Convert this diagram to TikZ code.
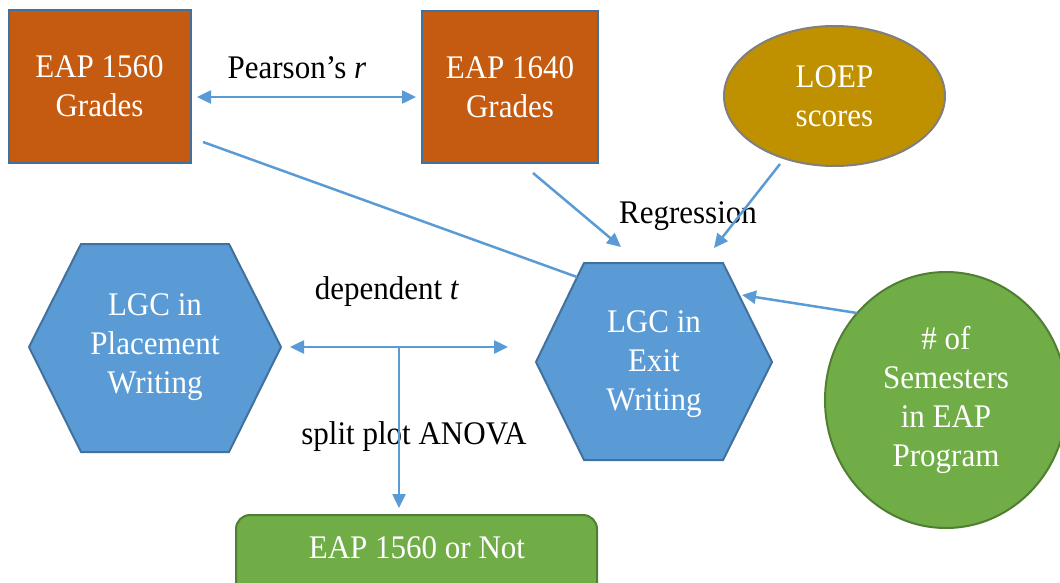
\documentclass[tikz,border=0pt]{standalone}
\usepackage{fontspec}
\setmainfont{Liberation Serif}[FakeStretch=0.94]
\usetikzlibrary{shapes.geometric,arrows.meta}
\definecolor{orangefill}{HTML}{C55A11}
\definecolor{blueline}{HTML}{41719C}
\definecolor{bluefill}{HTML}{5B9BD5}
\definecolor{greenfill}{HTML}{70AD47}
\definecolor{greenline}{HTML}{507E32}
\definecolor{goldfill}{HTML}{BF9000}
\definecolor{grayline}{HTML}{7F7F7F}
\tikzset{
  txt/.style={font=\fontsize{33}{39}\selectfont, align=center, inner sep=0pt},
  wtxt/.style={txt, text=white},
  gradebox/.style={wtxt, draw=blueline, line width=2pt, fill=orangefill, minimum width=#1},
  hexshape/.style={draw=blueline, line width=2pt, fill=bluefill},
  link/.style={draw=bluefill, line width=2.5pt},
  tip/.style={-{Triangle[length=14pt,width=13pt]}},
  dtip/.style={{Triangle[length=14pt,width=13pt]}-{Triangle[length=14pt,width=13pt]}},
}
\begin{document}
\begin{tikzpicture}[x=1pt,y=-1pt]
\useasboundingbox (0,0) rectangle (1060,583);
\clip (0,0) rectangle (1060,583);
% grade boxes
\node[gradebox=182pt, minimum height=152pt] (g1560) at (99.5,86.5) {EAP 1560\\Grades};
\node[gradebox=176pt, minimum height=151pt] (g1640) at (510,87) {EAP 1640\\Grades};
% LOEP ellipse
\node[wtxt, ellipse, draw=grayline, line width=2pt, fill=goldfill, minimum width=221pt, minimum height=140pt] (loep) at (834.5,96) {LOEP\\scores};
% semesters circle
\node[wtxt, ellipse, draw=greenline, line width=2pt, fill=greenfill, minimum width=242pt, minimum height=256pt] (sem) at (946,400) {\# of\\Semesters\\in EAP\\Program};
% hexagons
\draw[hexshape] (81,244) -- (229,244) -- (281,347) -- (229,452) -- (81,452) -- (29,347) -- cycle;
\node[wtxt] (place) at (155,347) {LGC in\\Placement\\Writing};
\draw[hexshape] (584,263) -- (723,263) -- (772,362) -- (723,460) -- (584,460) -- (536,362) -- cycle;
\node[wtxt] (exit) at (654,364) {LGC in\\Exit\\Writing};
% bottom rounded box
\draw[draw=greenline, line width=2pt, fill=greenfill, rounded corners=14pt] (236,515) rectangle (597,610);
\node[wtxt] (notbox) at (417,548) {EAP 1560 or Not};
% connector end points
\coordinate (pA) at (197,97);
\coordinate (pB) at (416,97);
\coordinate (lA) at (203,142);
\coordinate (lB) at (577,277);
\coordinate (rA) at (533,173);
\coordinate (rB) at (621,247);
\coordinate (oA) at (780,164);
\coordinate (oB) at (714,248);
\coordinate (sA) at (857,313);
\coordinate (sB) at (742,295);
\coordinate (dA) at (290,347);
\coordinate (dB) at (508,347);
\coordinate (vA) at (399,347);
\coordinate (vB) at (399,508);
% labels
\node[txt] (lblP) at (297,68) {Pearson’s \textit{r}};
\node[txt] (lblR) at (688,216) {Regression};
\node[txt] (lblD) at (387,292) {dependent \textit{t}};
\node[txt] (lblS) at (414,437) {split plot ANOVA};
% connectors
\draw[link, dtip] (pA) -- (pB);
\draw[link] (lA) -- (lB);
\draw[link, tip] (rA) -- (rB);
\draw[link, tip] (oA) -- (oB);
\draw[link, tip] (sA) -- (sB);
\draw[link, dtip] (dA) -- (dB);
\draw[link, tip] (vA) -- (vB);
\end{tikzpicture}
\end{document}
